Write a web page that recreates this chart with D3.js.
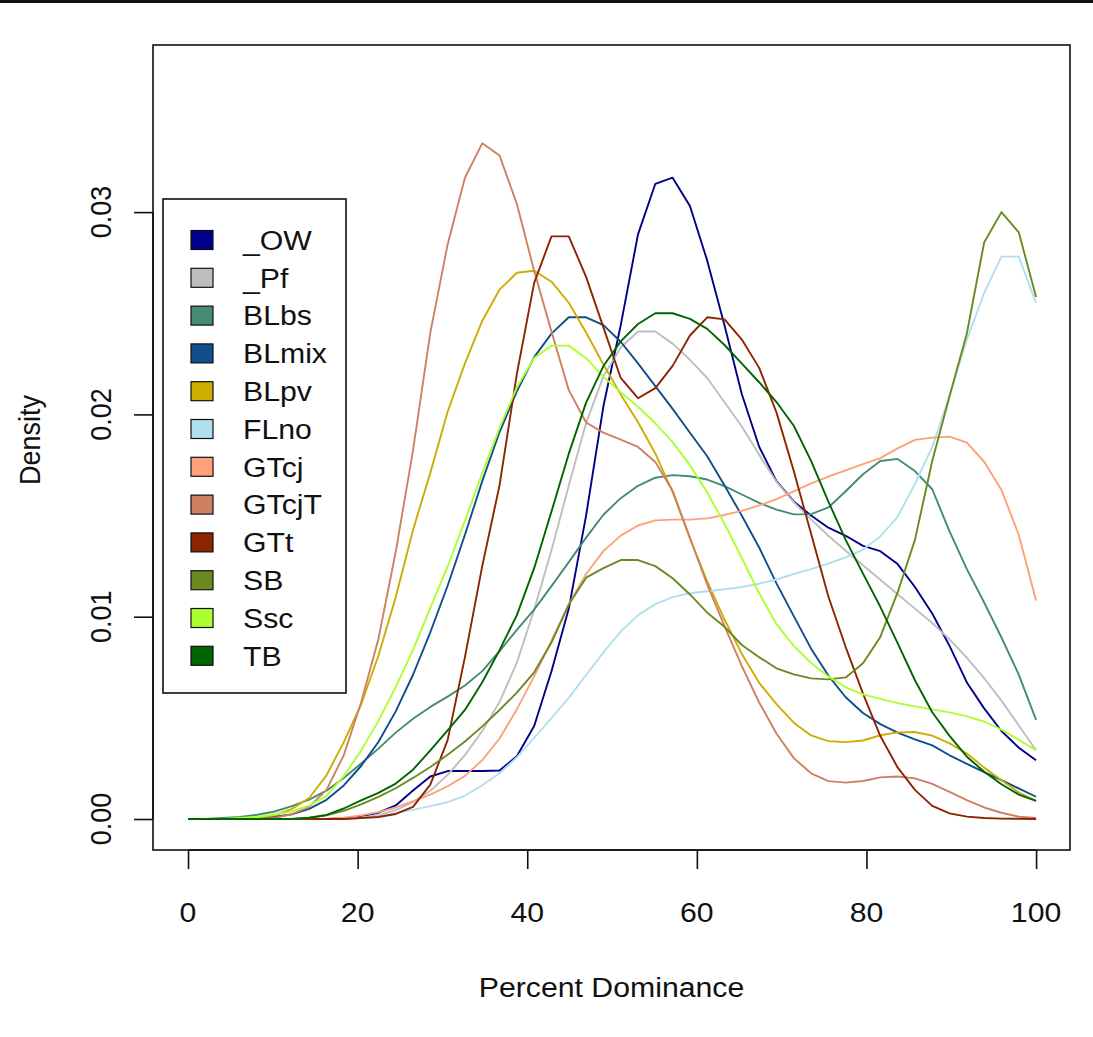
<!DOCTYPE html>
<html>
<head>
<meta charset="utf-8">
<script src="https://cdn.jsdelivr.net/npm/d3@7"></script>
<style>
  html, body { margin: 0; padding: 0; background: #fff; }
  svg { display: block; }
  text { font-family: "Liberation Sans", Arial, sans-serif; fill: #111; }
</style>
</head>
<body>
<svg id="chart" width="1093" height="1037"></svg>
<script>
// ---- data: density estimates on a 50-point grid over Percent Dominance ----
const dominance = [0,2.041,4.082,6.122,8.163,10.204,12.245,14.286,16.327,18.367,20.408,22.449,24.49,26.531,28.571,30.612,32.653,34.694,36.735,38.776,40.816,42.857,44.898,46.939,48.98,51.02,53.061,55.102,57.143,59.184,61.224,63.265,65.306,67.347,69.388,71.429,73.469,75.51,77.551,79.592,81.633,83.673,85.714,87.755,89.796,91.837,93.878,95.918,97.959,100];

const categories = ["_OW","_Pf","BLbs","BLmix","BLpv","FLno","GTcj","GTcjT","GTt","SB","Ssc","TB"];
const colors = ["#00008B","#BEBEBE","#458B74","#104E8B","#CDAD00","#B2DFEE","#FFA07A","#CD8162","#8B2500","#698B22","#ADFF2F","#006400"];

// values in units of 0.001 density
const OW    = [0,0,0,0,0,0,0,0,0,0.04, 0.13,0.31,0.67,1.41,2.1,2.37,2.38,2.37,2.4,3.1, 4.6,7.3,10.4,15.0,20.4,24.4,28.9,31.4,31.7,30.3, 27.6,24.4,21.0,18.4,16.7,15.7,15.0,14.4,14.0,13.5, 13.24,12.6,11.47,10.16,8.56,6.75,5.47,4.35,3.52,2.9];
const Pf    = [0,0,0,0,0,0,0,0,0,0, 0.07,0.19,0.44,0.83,1.4,2.18,3.16,4.35,5.79,7.73, 10.34,13.29,16.48,19.57,21.88,23.31,24.1,24.1,23.5,22.7, 21.8,20.6,19.4,18.0,16.67,15.66,14.81,14.0,13.26,12.54, 11.83,11.11,10.4,9.69,8.88,7.97,6.96,5.85,4.62,3.4];
const BLbs  = [0,0,0.05,0.1,0.21,0.37,0.64,0.96,1.4,2.03, 2.74,3.48,4.27,4.96,5.54,6.05,6.6,7.31,8.3,9.35, 10.35,11.51,12.7,13.91,15.04,15.86,16.47,16.87,17.0,16.94, 16.78,16.45,16.04,15.63,15.29,15.06,15.07,15.4,16.2,17.04, 17.7,17.8,17.2,16.3,14.22,12.35,10.7,8.97,7.14,4.9];
const BLmix = [0,0,0,0,0.05,0.11,0.23,0.5,0.95,1.66, 2.62,3.81,5.32,7.13,9.23,11.53,14.05,16.7,19.13,21.14, 22.83,23.99,24.8,24.8,24.41,23.59,22.52,21.4,20.27,19.09, 17.93,16.49,14.99,13.42,11.65,10.03,8.42,7.09,6.02,5.24, 4.69,4.27,3.94,3.64,3.15,2.73,2.32,1.92,1.51,1.1];
const BLpv  = [0,0,0,0,0.06,0.18,0.5,1.04,2.16,3.8, 5.66,8.07,10.96,14.29,17.11,20.13,22.52,24.62,26.17,27.0, 27.1,26.56,25.52,24.05,22.47,20.99,19.61,18.07,16.16,13.88, 11.74,9.86,8.16,6.73,5.68,4.76,4.13,3.85,3.8,3.88, 4.14,4.28,4.3,4.12,3.74,3.24,2.54,1.92,1.31,0.9];
const FLno  = [0,0,0,0,0,0,0,0,0,0, 0.06,0.14,0.29,0.45,0.64,0.83,1.16,1.67,2.26,3.05, 4.01,4.99,5.99,7.12,8.24,9.26,10.07,10.62,10.97,11.16, 11.26,11.36,11.47,11.63,11.84,12.11,12.35,12.63,12.93,13.32, 13.97,14.94,16.56,18.38,20.93,23.7,26.0,27.8,27.8,25.5];
const GTcj  = [0,0,0,0,0,0,0,0,0,0.06, 0.18,0.34,0.57,0.88,1.21,1.62,2.13,2.91,3.98,5.42, 7.05,8.82,10.62,12.11,13.24,14.01,14.51,14.76,14.8,14.8, 14.86,15.03,15.23,15.5,15.81,16.19,16.59,16.93,17.23,17.54, 17.84,18.32,18.74,18.85,18.9,18.6,17.66,16.26,14.04,10.8];
const GTcjT = [0,0,0,0,0,0.05,0.24,0.6,1.44,3.15, 5.76,8.9,13.2,18.22,24.04,28.4,31.7,33.4,32.8,30.4, 27.1,24.1,21.2,19.6,19.1,18.75,18.39,17.65,16.23,13.9, 11.58,9.53,7.56,5.76,4.23,3.01,2.26,1.87,1.8,1.88, 2.06,2.1,2.01,1.74,1.34,0.93,0.57,0.31,0.12,0.05];
const GTt   = [0,0,0,0,0,0,0,0,0,0, 0.05,0.1,0.25,0.6,1.7,3.9,8.0,12.5,16.5,22.0, 26.5,28.8,28.8,26.8,24.3,21.8,20.8,21.3,22.4,23.9, 24.8,24.7,23.7,22.3,20.1,17.2,14.1,11.0,8.5,6.2, 4.1,2.55,1.44,0.65,0.28,0.12,0.05,0.02,0.01,0];
const SB    = [0,0,0,0,0,0,0,0.06,0.18,0.4, 0.72,1.09,1.52,2.03,2.57,3.18,3.83,4.58,5.39,6.25, 7.25,8.72,10.6,11.93,12.4,12.8,12.8,12.5,11.9,11.1, 10.2,9.5,8.6,8.0,7.45,7.15,6.95,6.9,7.0,7.7, 9.0,11.2,13.8,17.7,20.9,24.0,28.5,30.0,29.0,25.8];
const Ssc   = [0,0,0,0.05,0.1,0.22,0.38,0.66,1.14,2.12, 3.38,4.85,6.52,8.36,10.44,12.47,14.75,17.1,19.33,21.34, 22.79,23.4,23.4,22.78,21.86,21.09,20.38,19.56,18.63,17.49, 16.14,14.59,12.89,11.16,9.63,8.56,7.71,7.05,6.51,6.16, 5.94,5.73,5.57,5.42,5.27,5.07,4.82,4.42,3.91,3.4];
const TB    = [0,0,0,0,0,0,0,0.06,0.2,0.52, 0.92,1.29,1.75,2.44,3.39,4.38,5.39,6.76,8.35,10.08, 12.4,15.2,18.06,20.58,22.39,23.61,24.47,25.0,25.0,24.72, 24.23,23.43,22.51,21.59,20.61,19.44,17.7,15.69,13.8,12.13, 10.49,8.69,6.86,5.28,4.11,3.08,2.34,1.72,1.21,0.9];

const seriesValues = [OW, Pf, BLbs, BLmix, BLpv, FLno, GTcj, GTcjT, GTt, SB, Ssc, TB];
const xTicks = [0,20,40,60,80,100];
const yTicks = [0,0.01,0.02,0.03];
const yTickLabels = ["0.00","0.01","0.02","0.03"];
const xLabel = "Percent Dominance";
const yLabel = "Density";

// ---- layout ----
const svg = d3.select("#chart");
const box = {left: 153, top: 45, right: 1070, bottom: 850};
const FS = 27, SX = 1.12;

const x = d3.scaleLinear().domain([-4.13, 104.0]).range([box.left, box.right]);
const y = d3.scaleLinear().domain([-0.001532, 0.03826]).range([box.bottom, box.top]);

// top dark strip
svg.append("rect").attr("x",0).attr("y",0).attr("width",1093).attr("height",3).attr("fill","#111");

// lines
const line = d3.line().x(d => x(d[0])).y(d => y(d[1] / 1000)).curve(d3.curveLinear);
const gLines = svg.append("g");
seriesValues.forEach((vals, i) => {
  gLines.append("path")
    .datum(dominance.map((v, k) => [v, vals[k]]))
    .attr("d", line)
    .attr("fill", "none")
    .attr("stroke", colors[i])
    .attr("stroke-width", 1.9)
    .attr("stroke-linejoin", "round");
});

// box
svg.append("rect")
  .attr("x", box.left).attr("y", box.top)
  .attr("width", box.right - box.left).attr("height", box.bottom - box.top)
  .attr("fill", "none").attr("stroke", "#111").attr("stroke-width", 1.6);

// x axis
const xAxis = d3.axisBottom(x).tickValues(xTicks).tickSize(19).tickFormat("");
const gx = svg.append("g").attr("transform", `translate(0,${box.bottom})`).call(xAxis);
gx.select(".domain").attr("d", `M${x(0)},0H${x(100)}`).attr("stroke", "#111").attr("stroke-width", 1.6);
gx.selectAll(".tick line").attr("stroke", "#111").attr("stroke-width", 1.6);
xTicks.forEach(t => {
  svg.append("g").attr("transform", `translate(${x(t)},922) scale(${SX},1)`)
    .append("text").attr("text-anchor", "middle").attr("font-size", FS).text(String(t));
});

// y axis
const yAxis = d3.axisLeft(y).tickValues(yTicks).tickSize(19).tickFormat("");
const gy = svg.append("g").attr("transform", `translate(${box.left},0)`).call(yAxis);
gy.select(".domain").attr("d", `M0,${y(0)}V${y(0.03)}`).attr("stroke", "#111").attr("stroke-width", 1.6);
gy.selectAll(".tick line").attr("stroke", "#111").attr("stroke-width", 1.6);
yTicks.forEach((t, i) => {
  svg.append("g").attr("transform", `translate(111,${y(t)}) scale(${SX},1) rotate(-90)`)
    .append("text").attr("text-anchor", "middle").attr("font-size", FS).text(yTickLabels[i]);
});

// axis titles
svg.append("g").attr("transform", `translate(${(box.left + box.right) / 2},997) scale(${SX},1)`)
  .append("text").attr("text-anchor", "middle").attr("font-size", FS).text(xLabel);
svg.append("g").attr("transform", `translate(40,440) scale(${SX},1) rotate(-90)`)
  .append("text").attr("text-anchor", "middle").attr("font-size", FS).text(yLabel);

// legend
const lg = svg.append("g");
lg.append("rect").attr("x", 163).attr("y", 199).attr("width", 183).attr("height", 494)
  .attr("fill", "#fff").attr("stroke", "#111").attr("stroke-width", 1.6);
categories.forEach((c, i) => {
  const cy = 240 + i * 37.8;
  lg.append("rect").attr("x", 191).attr("y", cy - 9.5).attr("width", 22).attr("height", 19)
    .attr("fill", colors[i]).attr("stroke", "#111").attr("stroke-width", 1.2);
  lg.append("g").attr("transform", `translate(243,${cy + 9.7}) scale(${SX},1)`)
    .append("text").attr("font-size", FS).text(c);
});
</script>
</body>
</html>
